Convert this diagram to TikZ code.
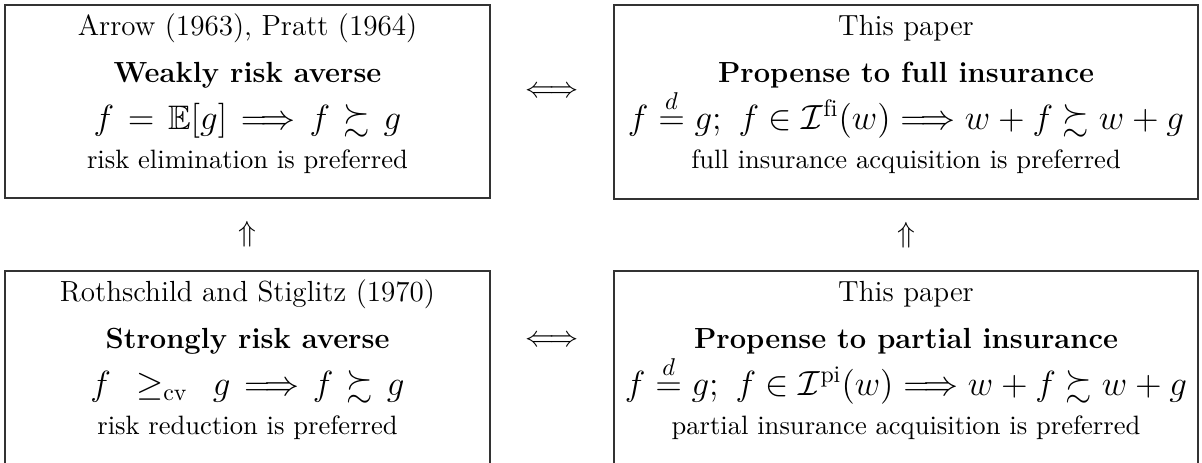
\documentclass[tikz,border=0pt]{standalone}
\usepackage{amsmath,amssymb}
\usepackage{fontspec}
\usetikzlibrary{calc}
\tikzset{
  box/.style={draw=black!80, line width=0.7pt, inner sep=0pt},
  ln/.style={anchor=base, inner sep=0pt, font=\fontsize{12}{14}\selectfont},
  ttl/.style={ln, font=\fontsize{12}{14}\selectfont\bfseries},
  frm/.style={ln, font=\fontsize{14}{17}\selectfont},
  dsc/.style={ln, font=\fontsize{10.95}{13}\selectfont},
  arr/.style={inner sep=0pt, font=\fontsize{12}{14}\selectfont}
}
\begin{document}
\begin{tikzpicture}[x=0.4122pt,y=-0.4122pt]
\clip (0,0) rectangle (1202,462);
% boxes
\node[box, minimum width=199.9pt, minimum height=79.55pt] (tl) at (247.5,101.5) {};
\node[box, minimum width=240.7pt, minimum height=80.0pt] (tr) at (906,102) {};
\node[box, minimum width=199.9pt, minimum height=80.4pt] (bl) at (247.5,368.5) {};
\node[box, minimum width=240.7pt, minimum height=80.4pt] (br) at (906,368.5) {};
% top-left text
\node[ln]  (tlh) at ($(tl.north)+(0,31)$) {Arrow (1963), Pratt (1964)};
\node[ttl] (tlb) at ($(tl.north)+(0,78)$) {Weakly risk averse};
\node[frm] (tle) at ($(tl.north)+(0,125)$) {$f \mkern2mu=\mkern2mu \mathbb{E}[g] \mkern2mu\Longrightarrow\mkern2mu f \mkern2mu\succsim\mkern2mu g$};
\node[dsc] (tld) at ($(tl.north)+(0,164)$) {risk elimination is preferred};
% top-right text
\node[ln]  (trh) at ($(tr.north)+(0,31)$) {This paper};
\node[ttl] (trb) at ($(tr.north)+(0,78)$) {Propense to full insurance};
\node[frm] (tre) at ($(tr.north)+(0,125)$) {$f \overset{d}{=} g;\ f \in \mathcal{I}^{\mathrm{fi}}(w) \Longrightarrow w+f \succsim w+g$};
\node[dsc] (trd) at ($(tr.north)+(0,164)$) {full insurance acquisition is preferred};
% bottom-left text
\node[ln]  (blh) at ($(bl.north)+(0,31)$) {Rothschild and Stiglitz (1970)};
\node[ttl] (blb) at ($(bl.north)+(0,78)$) {Strongly risk averse};
\node[frm] (ble) at ($(bl.north)+(0,125)$) {$f \mkern8mu\geq_{\mathrm{cv}}\mkern8mu g \mkern2mu\Longrightarrow\mkern2mu f \mkern2mu\succsim\mkern2mu g$};
\node[dsc] (bld) at ($(bl.north)+(0,164)$) {risk reduction is preferred};
% bottom-right text
\node[ln]  (brh) at ($(br.north)+(0,31)$) {This paper};
\node[ttl] (brb) at ($(br.north)+(0,78)$) {Propense to partial insurance};
\node[frm] (bre) at ($(br.north)+(0,125)$) {$f \overset{d}{=} g;\ f \in \mathcal{I}^{\mathrm{pi}}(w) \Longrightarrow w+f \succsim w+g$};
\node[dsc] (brd) at ($(br.north)+(0,164)$) {partial insurance acquisition is preferred};
% implication symbols
\node[arr] (eqtop) at ($(tl.east)!0.5!(tr.west)+(0,-10)$) {$\Longleftrightarrow$};
\node[arr] (eqbot) at ($(bl.east)!0.5!(br.west)+(0,-27)$) {$\Longleftrightarrow$};
\node[arr] (upl) at ($(tl.south)!0.5!(bl.north)$) {$\Uparrow$};
\node[arr] (upr) at ($(tr.south)!0.5!(br.north)$) {$\Uparrow$};
\end{tikzpicture}
\end{document}
